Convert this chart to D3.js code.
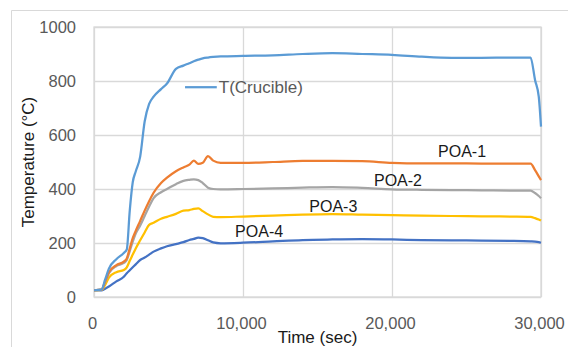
<!DOCTYPE html>
<html>
<head>
<meta charset="utf-8">
<script src="https://cdn.jsdelivr.net/npm/d3@7"></script>
<style>
  body { margin: 0; background: #fff; }
  svg { display: block; font-family: "Liberation Sans", Arial, sans-serif; }
</style>
</head>
<body>
<div id="chart"></div>
<script>
  "use strict";

  // time samples (sec) shared by every series
  const times = [0, 500, 750, 1000, 1500, 2000, 2200, 2400, 2600, 2800, 3100, 3400, 3700, 4000, 4500, 4900,
    5500, 6000, 6400, 6700, 7000, 7300, 7650, 8000, 8500, 10000, 12000, 14000, 16000, 18000,
    20000, 22000, 24000, 26000, 28000, 29300, 29600, 29850, 30000];

  const crucible = [25, 27, 65, 105, 140, 163, 176, 320, 425, 465, 520, 650, 715, 742, 770, 791,
    845, 857, 866, 873, 879, 884, 887, 889, 891, 893, 895, 900, 903, 900,
    897, 890, 886, 886, 887, 887, 804, 742, 631];

  const poa1 = [25, 27, 58, 92, 118, 131, 143, 180, 218, 245, 282, 320, 355, 386, 422, 442,
    466, 480, 490, 505, 493, 497, 522, 505, 497, 497, 500, 504, 504, 503,
    497, 495, 495, 494, 494, 494, 470, 447, 433];

  const poa2 = [25, 27, 55, 88, 115, 126, 137, 170, 205, 235, 265, 300, 335, 366, 388, 400,
    418, 430, 434, 436, 433, 422, 405, 400, 399, 400, 402, 405, 407, 404,
    399, 397, 396, 395, 394, 394, 385, 374, 366];

  const poa3 = [25, 26, 45, 72, 92, 100, 110, 134, 157, 180, 210, 239, 267, 275, 290, 297,
    308, 320, 322, 326, 328, 318, 306, 297, 296, 298, 301, 305, 307, 305,
    303, 301, 300, 299, 298, 297, 292, 287, 283];

  const poa4 = [25, 25, 31, 39, 58, 75, 88, 99, 110, 121, 137, 146, 157, 168, 180, 188,
    196, 203, 211, 215, 220, 218, 210, 202, 199, 201, 206, 211, 213, 214,
    213, 211, 210, 209, 208, 206, 205, 203, 201];

  const seriesNames = ["T(Crucible)", "POA-1", "POA-2", "POA-3", "POA-4"];
  const seriesValues = [crucible, poa1, poa2, poa3, poa4];
  const seriesColors = ["#5B9BD5", "#ED7D31", "#A5A5A5", "#FFC000", "#4472C4"];

  const xTicks = [0, 10000, 20000, 30000];
  const yTicks = [0, 200, 400, 600, 800, 1000];

  // in-plot labels: [name, time, temperature]
  const poaLabels = [
    ["POA-1", 23090, 538],
    ["POA-2", 18790, 433],
    ["POA-3", 14450, 334],
    ["POA-4", 9470, 242]
  ];
  const legendLine = [6110, 8240, 777];

  const width = 568;
  const height = 347;
  const margin = { top: 27, right: 27, bottom: 50, left: 94 };
  const innerW = width - margin.left - margin.right;
  const innerH = height - margin.top - margin.bottom;
  const gridColor = "#d9d9d9";
  const tickColor = "#595959";

  const svg = d3.select("#chart")
    .append("svg")
    .attr("width", width)
    .attr("height", height);

  // outer chart frame (only top and left edges are visible)
  svg.append("path")
    .attr("d", "M11.5," + height + "V10.5H" + width)
    .attr("fill", "none")
    .attr("stroke", gridColor)
    .attr("stroke-width", 1);

  const g = svg.append("g")
    .attr("transform", "translate(" + margin.left + "," + margin.top + ")");

  const x = d3.scaleLinear().domain([0, 30000]).range([0, innerW]);
  const y = d3.scaleLinear().domain([0, 1000]).range([innerH, 0]);

  const yAxis = g.append("g")
    .call(d3.axisLeft(y).tickValues(yTicks).tickSize(-innerW).tickPadding(18).tickFormat(d3.format("d")));
  yAxis.select(".domain").remove();
  yAxis.selectAll("line").attr("stroke", gridColor).attr("stroke-width", 1.3);
  yAxis.selectAll("text")
    .attr("fill", tickColor)
    .style("font-size", "16.5px")
    .attr("dy", "0.35em");

  const xAxis = g.append("g")
    .attr("transform", "translate(0," + innerH + ")")
    .call(d3.axisBottom(x).tickValues(xTicks).tickSize(-innerH).tickFormat(d3.format(",")));
  xAxis.select(".domain").remove();
  xAxis.selectAll("line").attr("stroke", gridColor).attr("stroke-width", 1.3);
  xAxis.selectAll("text")
    .attr("fill", tickColor)
    .style("font-size", "16.5px")
    .attr("y", 26)
    .attr("dx", -2)
    .attr("dy", "0.35em");

  // plot area border
  g.append("rect")
    .attr("x", 0)
    .attr("y", 0)
    .attr("width", innerW)
    .attr("height", innerH)
    .attr("fill", "none")
    .attr("stroke", gridColor)
    .attr("stroke-width", 1.3);

  const line = d3.line()
    .x((d, i) => x(times[i]))
    .y((d) => y(d))
    .curve(d3.curveMonotoneX);

  // draw back to front so the crucible line stays on top of the others
  for (let s = seriesValues.length - 1; s >= 0; s -= 1) {
    g.append("path")
      .datum(seriesValues[s])
      .attr("fill", "none")
      .attr("stroke", seriesColors[s])
      .attr("stroke-width", 2.25)
      .attr("stroke-linejoin", "round")
      .attr("d", line);
  }

  // legend entry for the crucible
  g.append("line")
    .attr("x1", x(legendLine[0]))
    .attr("x2", x(legendLine[1]))
    .attr("y1", y(legendLine[2]))
    .attr("y2", y(legendLine[2]))
    .attr("stroke", seriesColors[0])
    .attr("stroke-width", 2.25);
  g.append("text")
    .attr("x", x(legendLine[1]) + 2)
    .attr("y", y(legendLine[2]))
    .attr("dy", "0.35em")
    .attr("fill", tickColor)
    .style("font-size", "17px")
    .text(seriesNames[0]);

  g.selectAll(".poa-label")
    .data(poaLabels)
    .join("text")
    .attr("class", "poa-label")
    .attr("x", (d) => x(d[1]))
    .attr("y", (d) => y(d[2]))
    .attr("dy", "0.35em")
    .attr("fill", "#1a1a1a")
    .style("font-size", "16px")
    .text((d) => d[0]);

  // axis titles
  svg.append("text")
    .attr("x", margin.left + innerW / 2)
    .attr("y", 337)
    .attr("dy", "0.35em")
    .attr("text-anchor", "middle")
    .attr("fill", "#1a1a1a")
    .style("font-size", "17px")
    .text("Time (sec)");

  svg.append("text")
    .attr("transform", "translate(28," + (margin.top + innerH / 2) + ") rotate(-90)")
    .attr("dy", "0.35em")
    .attr("text-anchor", "middle")
    .attr("fill", "#1a1a1a")
    .style("font-size", "17px")
    .text("Temperature (°C)");
</script>
</body>
</html>
